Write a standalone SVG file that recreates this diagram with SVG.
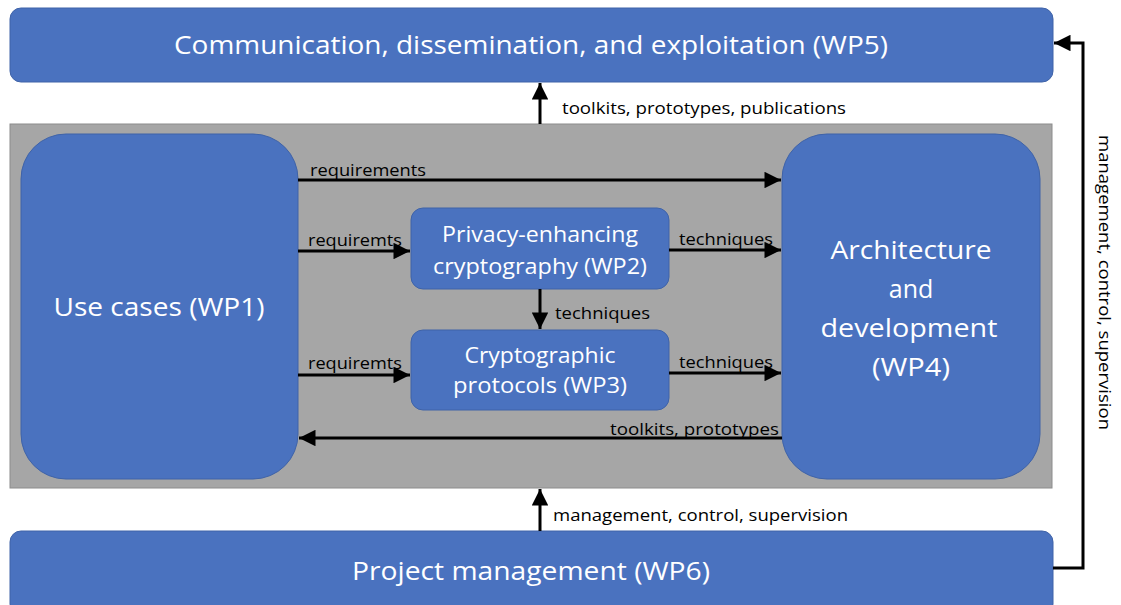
<svg xmlns="http://www.w3.org/2000/svg" width="1121" height="605" viewBox="0 0 1121 605">
<defs>
<style>
.node{fill:#4a72bf;stroke:#3f63a8;stroke-width:1}
.big{font-family:"Open Sans","Noto Sans",sans-serif;font-size:25px;fill:#ffffff;text-anchor:middle}
.mid{font-family:"Open Sans","Noto Sans",sans-serif;font-size:21px;fill:#ffffff;text-anchor:middle}
.lbl{font-family:"Open Sans","Noto Sans",sans-serif;font-size:16px;fill:#000000}
.conn{stroke:#000;stroke-width:3;fill:none}
</style>
<marker id="ah" viewBox="0 0 10 10" refX="10" refY="5" markerWidth="6" markerHeight="5.5" markerUnits="strokeWidth" orient="auto">
<path d="M0,0 L10,5 L0,10 Z" fill="#000"/>
</marker>
</defs>
<rect width="1121" height="605" fill="#ffffff"/>
<g id="container">
<rect x="10" y="124" width="1042" height="364" fill="#a6a6a6" stroke="#8c8c8c" stroke-width="1"/>
</g>
<g id="wp5">
<rect class="node" x="10" y="8" width="1043" height="74" rx="11"/>
<text class="big" x="531" y="54" textLength="714" lengthAdjust="spacingAndGlyphs">Communication, dissemination, and exploitation (WP5)</text>
</g>
<g id="wp6">
<rect class="node" x="10" y="531" width="1043" height="84" rx="11"/>
<text class="big" x="531" y="580" textLength="358" lengthAdjust="spacingAndGlyphs">Project management (WP6)</text>
</g>
<g id="wp1">
<rect class="node" x="21" y="134" width="277" height="345" rx="45"/>
<text class="big" x="159" y="316" textLength="211" lengthAdjust="spacingAndGlyphs">Use cases (WP1)</text>
</g>
<g id="wp4">
<rect class="node" x="782" y="134" width="258" height="345" rx="45"/>
<text class="big" x="911" y="259" textLength="161" lengthAdjust="spacingAndGlyphs">Architecture</text>
<text class="big" x="911" y="298">and</text>
<text class="big" x="909" y="337" textLength="177" lengthAdjust="spacingAndGlyphs">development</text>
<text class="big" x="911" y="376" textLength="78" lengthAdjust="spacingAndGlyphs">(WP4)</text>
</g>
<g id="wp2">
<rect class="node" x="411" y="208" width="258" height="81" rx="12"/>
<text class="mid" x="540" y="242" textLength="196" lengthAdjust="spacingAndGlyphs">Privacy-enhancing</text>
<text class="mid" x="540" y="274" textLength="214" lengthAdjust="spacingAndGlyphs">cryptography (WP2)</text>
</g>
<g id="wp3">
<rect class="node" x="411" y="330" width="258" height="80" rx="12"/>
<text class="mid" x="540" y="363" textLength="151" lengthAdjust="spacingAndGlyphs">Cryptographic</text>
<text class="mid" x="540" y="393" textLength="174" lengthAdjust="spacingAndGlyphs">protocols (WP3)</text>
</g>
<g id="connectors">
<line class="conn" x1="298" y1="180" x2="781" y2="180" marker-end="url(#ah)"/>
<line class="conn" x1="298" y1="251" x2="410" y2="251" marker-end="url(#ah)"/>
<line class="conn" x1="669" y1="250" x2="781" y2="250" marker-end="url(#ah)"/>
<line class="conn" x1="540" y1="289" x2="540" y2="329" marker-end="url(#ah)"/>
<line class="conn" x1="298" y1="375" x2="410" y2="375" marker-end="url(#ah)"/>
<line class="conn" x1="669" y1="373" x2="781" y2="373" marker-end="url(#ah)"/>
<line class="conn" x1="782" y1="438" x2="299" y2="438" marker-end="url(#ah)"/>
<line class="conn" x1="540" y1="124" x2="540" y2="83" marker-end="url(#ah)"/>
<line class="conn" x1="540" y1="531" x2="540" y2="489" marker-end="url(#ah)"/>
<polyline class="conn" points="1053,568 1083,568 1083,43 1054,43" marker-end="url(#ah)"/>
<text class="lbl" x="310" y="176" textLength="116" lengthAdjust="spacingAndGlyphs">requirements</text>
<text class="lbl" x="308" y="246" textLength="94" lengthAdjust="spacingAndGlyphs">requiremts</text>
<text class="lbl" x="679" y="245" textLength="94" lengthAdjust="spacingAndGlyphs">techniques</text>
<text class="lbl" x="555" y="319" textLength="95" lengthAdjust="spacingAndGlyphs">techniques</text>
<text class="lbl" x="308" y="369" textLength="94" lengthAdjust="spacingAndGlyphs">requiremts</text>
<text class="lbl" x="679" y="368" textLength="94" lengthAdjust="spacingAndGlyphs">techniques</text>
<text class="lbl" x="610" y="435" textLength="169" lengthAdjust="spacingAndGlyphs">toolkits, prototypes</text>
<text class="lbl" x="562" y="114" textLength="284" lengthAdjust="spacingAndGlyphs">toolkits, prototypes, publications</text>
<text class="lbl" x="553" y="521" textLength="295" lengthAdjust="spacingAndGlyphs">management, control, supervision</text>
<text class="lbl" transform="translate(1099,135) rotate(90)" x="0" y="0" textLength="295" lengthAdjust="spacingAndGlyphs">management, control, supervision</text>
</g>
</svg>
